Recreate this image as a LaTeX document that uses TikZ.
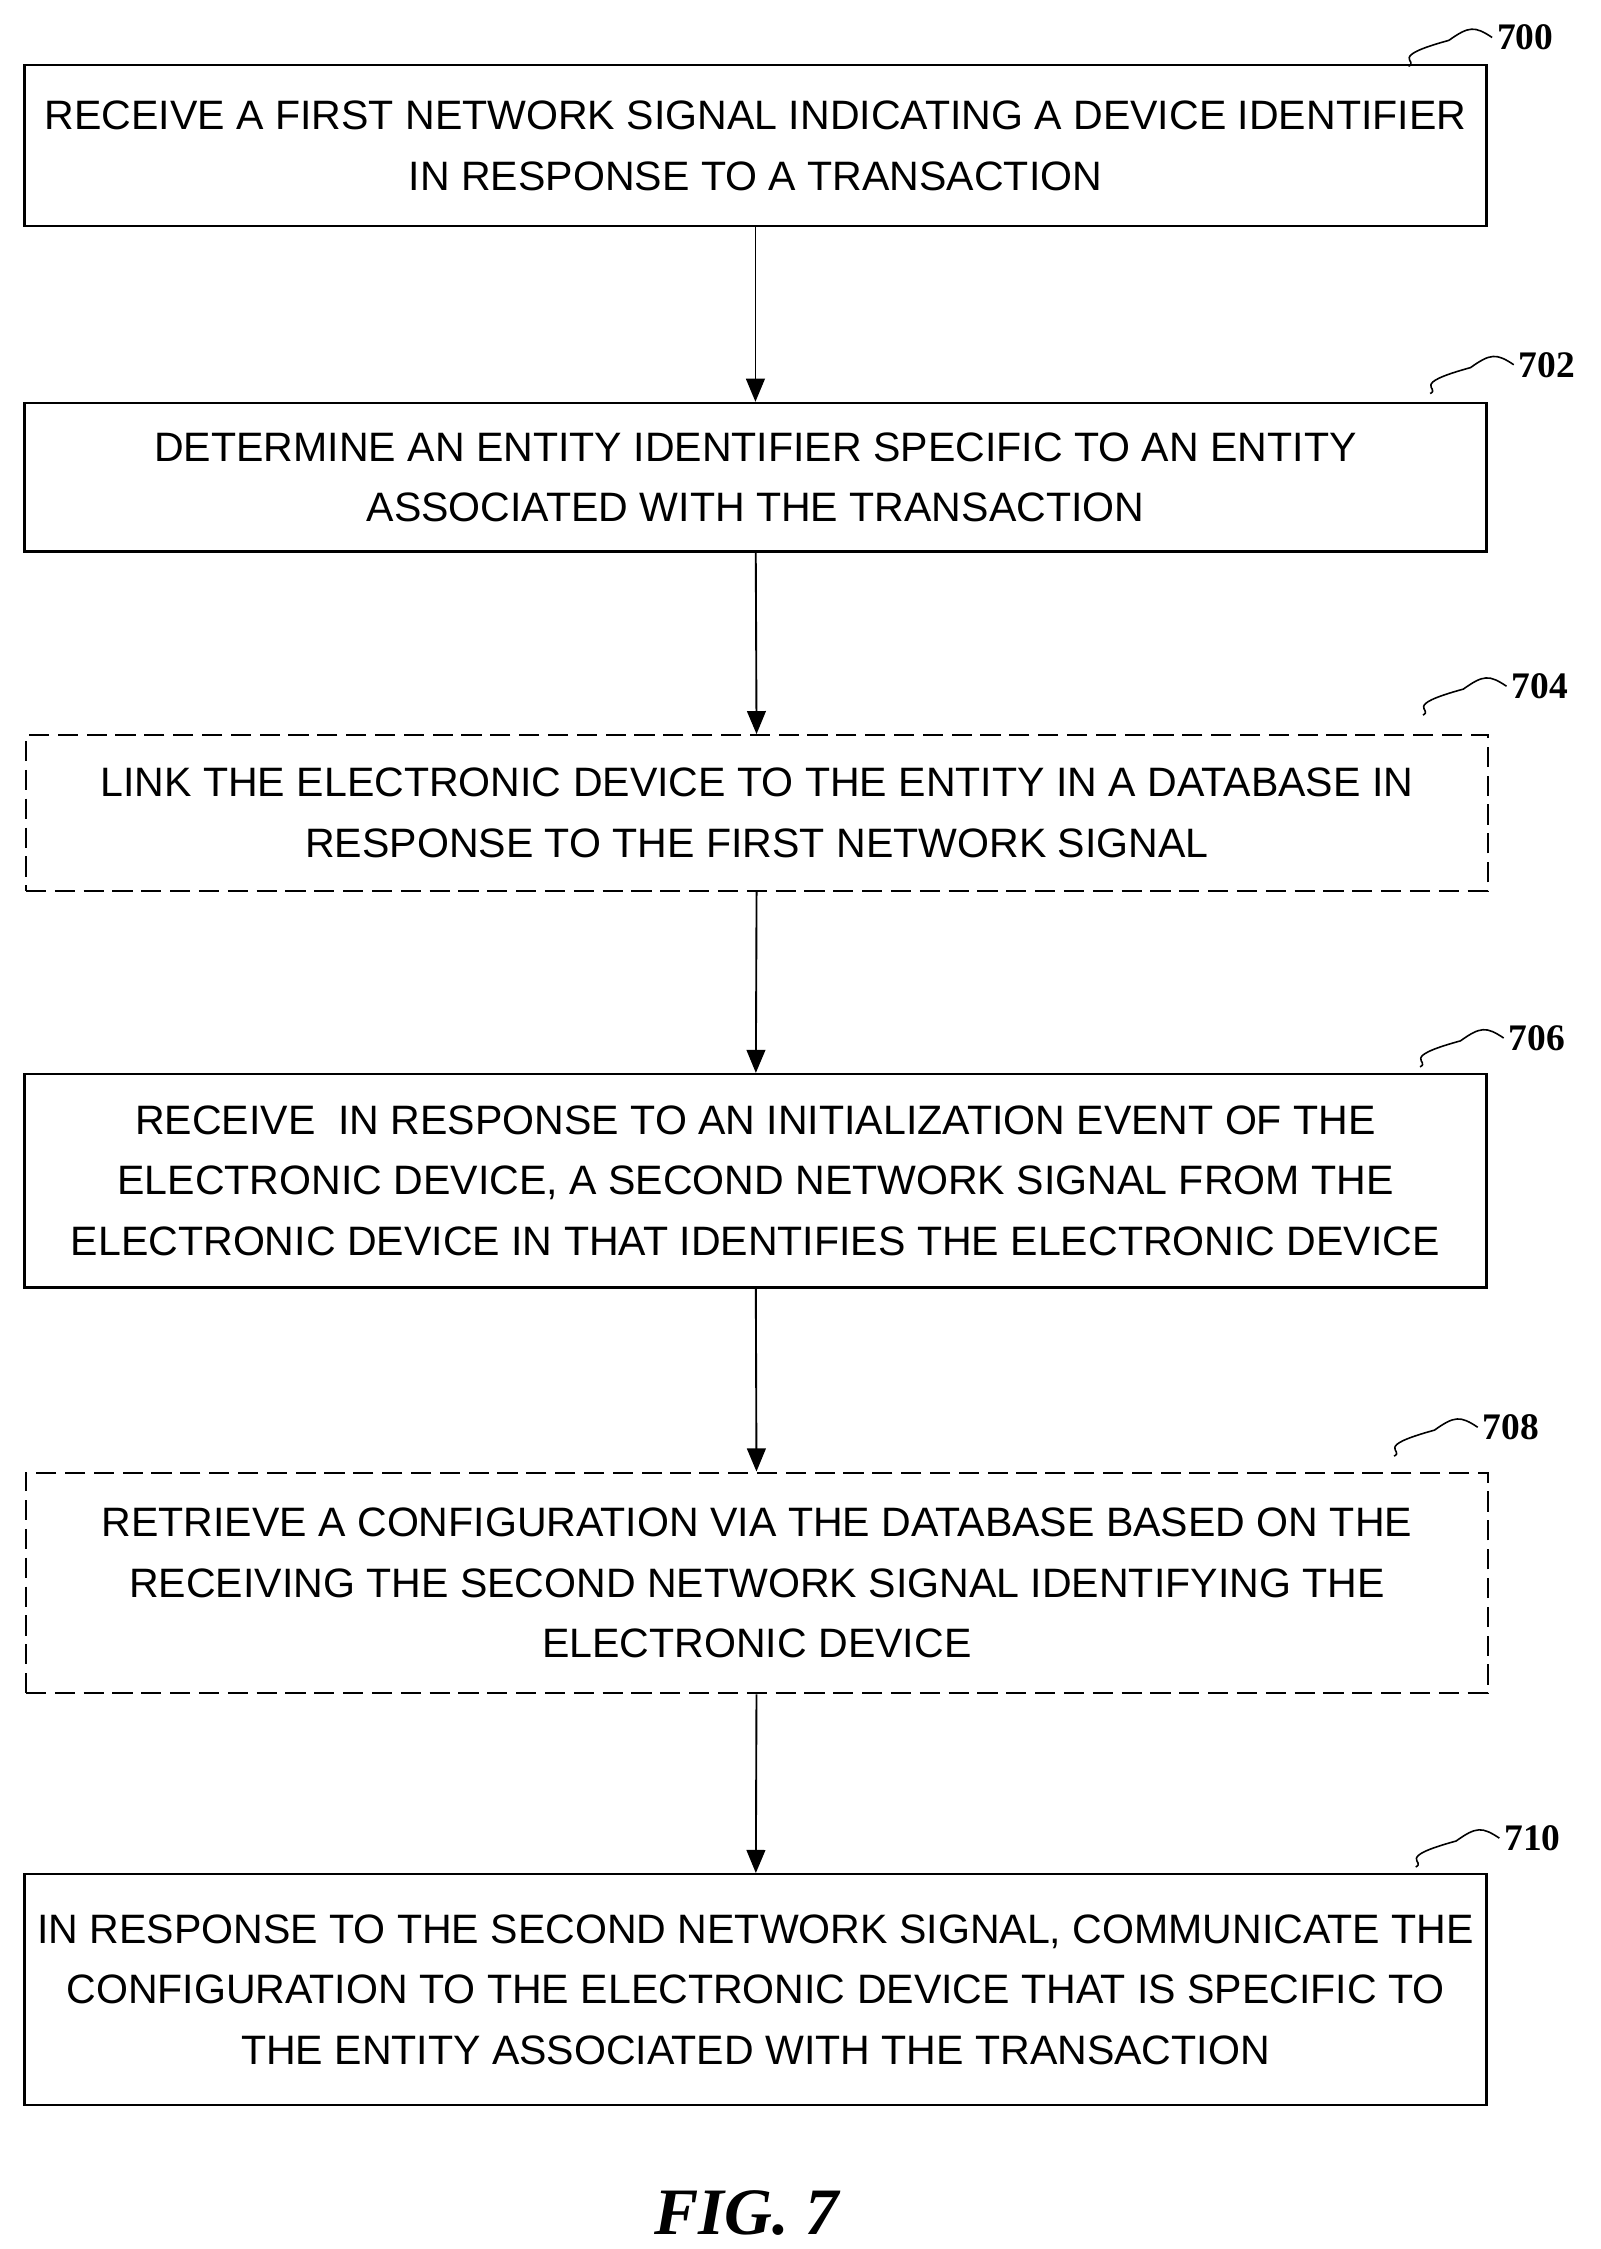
\documentclass[tikz,border=0pt]{standalone}
\usepackage{fontspec}
\setmainfont{Liberation Sans}
\newfontfamily\figFont{Liberation Serif}
\usetikzlibrary{arrows.meta}
\tikzset{
stepBox/.style={draw, line width=1.6pt, minimum width=1014pt, align=center,
  font=\fontsize{28.5}{42}\selectfont, inner sep=0pt},
optBox/.style={stepBox, dash pattern=on 14pt off 6pt},
stepLink/.style={line width=1.3pt, -{Triangle[length=16pt,width=13pt]}},
refNum/.style={font=\figFont\bfseries\fontsize{26}{26}\selectfont, anchor=west},
refTick/.style={line width=1.1pt}
}
\begin{document}
\begin{tikzpicture}[x=1pt,y=-1pt]
\useasboundingbox (0,0) rectangle (1110,1560);

% boxes
\node[stepBox, minimum height=112pt] (box700) at (524, 101)
{RECEIVE A FIRST NETWORK SIGNAL INDICATING A DEVICE IDENTIFIER\\IN RESPONSE TO A TRANSACTION};
\node[stepBox, minimum height=103pt] (box702) at (524, 331)
{DETERMINE AN ENTITY IDENTIFIER SPECIFIC TO AN ENTITY\\ASSOCIATED WITH THE TRANSACTION};
\node[optBox, minimum height=108pt] (box704) at (525, 564)
{LINK THE ELECTRONIC DEVICE TO THE ENTITY IN A DATABASE IN\\RESPONSE TO THE FIRST NETWORK SIGNAL};
\node[stepBox, minimum height=148pt] (box706) at (524, 819)
{RECEIVE \ IN RESPONSE TO AN INITIALIZATION EVENT OF THE\\ELECTRONIC DEVICE, A SECOND NETWORK SIGNAL FROM THE\\ELECTRONIC DEVICE IN THAT IDENTIFIES THE ELECTRONIC DEVICE};
\node[optBox, minimum height=153pt] (box708) at (525, 1098)
{RETRIEVE A CONFIGURATION VIA THE DATABASE BASED ON THE\\RECEIVING THE SECOND NETWORK SIGNAL IDENTIFYING THE\\ELECTRONIC DEVICE};
\node[stepBox, minimum height=160pt] (box710) at (524, 1380)
{IN RESPONSE TO THE SECOND NETWORK SIGNAL, COMMUNICATE THE\\CONFIGURATION TO THE ELECTRONIC DEVICE THAT IS SPECIFIC TO\\THE ENTITY ASSOCIATED WITH THE TRANSACTION};

% links
\draw[stepLink] (box700) -- (box702);
\draw[stepLink] (box702) -- (box704);
\draw[stepLink] (box704) -- (box706);
\draw[stepLink] (box706) -- (box708);
\draw[stepLink] (box708) -- (box710);

% reference numbers
\foreach \num/\x/\y in {700/1035/26, 702/1050/253, 704/1045/476, 706/1043/720, 708/1025/990, 710/1040/1275}{
  \node[refNum] (ref\num) at (\x,\y) {\num};
  \draw[refTick] (ref\num.west) .. controls +(-12,-8) and +(14,-10) .. +(-30,2)
    .. controls +(-44,12) and +(8,-4) .. +(-58,20);
}

\node[font=\figFont\bfseries\itshape\fontsize{46}{46}\selectfont] (figLabel) at (518,1535) {FIG. 7};
\end{tikzpicture}
\end{document}
